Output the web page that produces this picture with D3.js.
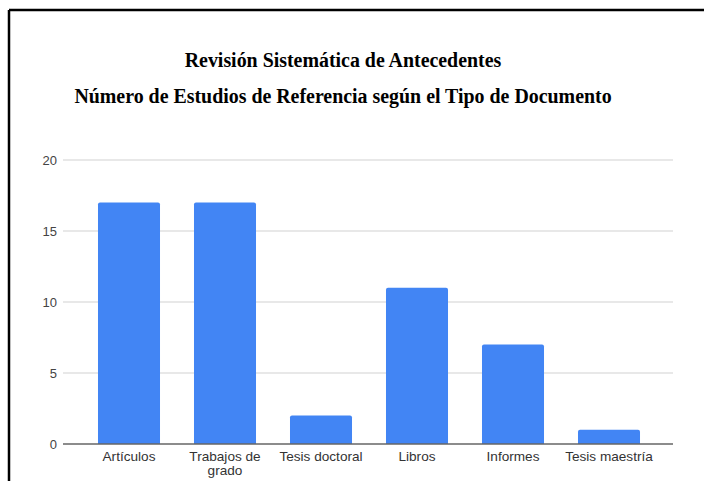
<!DOCTYPE html>
<html>
<head>
<meta charset="utf-8">
<script src="https://cdn.jsdelivr.net/npm/d3@7"></script>
<style>
  html, body { margin: 0; padding: 0; background: #fff; }
</style>
</head>
<body>
<div id="chart"></div>
<script>
var categories = ["Artículos", "Trabajos de grado", "Tesis doctoral", "Libros", "Informes", "Tesis maestría"];
var values = [17, 17, 2, 11, 7, 1];
var yTicks = [0, 5, 10, 15, 20];
var titleLines = ["Revisión Sistemática de Antecedentes",
                  "Número de Estudios de Referencia según el Tipo de Documento"];

var width = 704,
    height = 481;

var svg = d3.select("#chart")
            .append("svg")
            .attr("width", width)
            .attr("height", height);

// frame (top and left edge only)
svg.append("line")
   .attr("x1", 9).attr("x2", width)
   .attr("y1", 10).attr("y2", 10)
   .attr("stroke", "#000").attr("stroke-width", 2.5);
svg.append("line")
   .attr("x1", 9).attr("x2", 9)
   .attr("y1", 10).attr("y2", height)
   .attr("stroke", "#000").attr("stroke-width", 2.5);

// titles
svg.selectAll("text.title")
   .data(titleLines)
   .enter().append("text")
   .attr("class", "title")
   .attr("x", 343)
   .attr("y", function (d, i) { return 67 + i * 36; })
   .attr("text-anchor", "middle")
   .style("font-family", "'Liberation Serif', 'Times New Roman', serif")
   .style("font-weight", "bold")
   .style("font-size", "19.9px")
   .attr("fill", "#000")
   .text(function (d) { return d; });

var gridLeft = 63, gridRight = 673;

var x = d3.scaleBand()
          .domain(categories)
          .range([81, 657])
          .paddingInner(0.354)
          .paddingOuter(0.177);

var y = d3.scaleLinear()
          .domain([0, 20])
          .range([444, 160]);

// gridlines
svg.append("g")
   .selectAll("line")
   .data(yTicks.filter(function (t) { return t > 0; }))
   .enter().append("line")
   .attr("x1", gridLeft).attr("x2", gridRight)
   .attr("y1", function (d) { return y(d); })
   .attr("y2", function (d) { return y(d); })
   .attr("stroke", "#e0e0e0")
   .attr("stroke-width", 1.5);

// y tick labels
svg.append("g")
   .selectAll("text")
   .data(yTicks)
   .enter().append("text")
   .attr("x", 57)
   .attr("y", function (d) { return y(d); })
   .attr("dy", "0.35em")
   .attr("text-anchor", "end")
   .style("font-family", "'Liberation Sans', Arial, sans-serif")
   .style("font-size", "13px")
   .attr("fill", "#444")
   .text(function (d) { return d; });

// bars with slightly rounded tops
svg.append("g")
   .selectAll("path")
   .data(values)
   .enter().append("path")
   .attr("fill", "#4285f4")
   .attr("d", function (d, i) {
     var x0 = x(categories[i]), w = x.bandwidth(),
         y0 = y(d), y1 = y(0), r = 2;
     return "M" + x0 + "," + y1 +
            "V" + (y0 + r) +
            "Q" + x0 + "," + y0 + " " + (x0 + r) + "," + y0 +
            "H" + (x0 + w - r) +
            "Q" + (x0 + w) + "," + y0 + " " + (x0 + w) + "," + (y0 + r) +
            "V" + y1 + "Z";
   });

// baseline
svg.append("line")
   .attr("x1", gridLeft).attr("x2", gridRight)
   .attr("y1", y(0)).attr("y2", y(0))
   .attr("stroke", "#666")
   .attr("stroke-width", 1.5);

// x labels (wrap long ones)
var xLabels = svg.append("g")
   .selectAll("text")
   .data(categories)
   .enter().append("text")
   .attr("x", function (d) { return x(d) + x.bandwidth() / 2; })
   .attr("y", 461)
   .attr("text-anchor", "middle")
   .style("font-family", "'Liberation Sans', Arial, sans-serif")
   .style("font-size", "13.6px")
   .attr("fill", "#333");

xLabels.each(function (d) {
  var t = d3.select(this);
  var lines = d === "Trabajos de grado" ? ["Trabajos de", "grado"] : [d];
  lines.forEach(function (l, i) {
    t.append("tspan")
     .attr("x", t.attr("x"))
     .attr("dy", i === 0 ? 0 : 14)
     .text(l);
  });
});
</script>
</body>
</html>
